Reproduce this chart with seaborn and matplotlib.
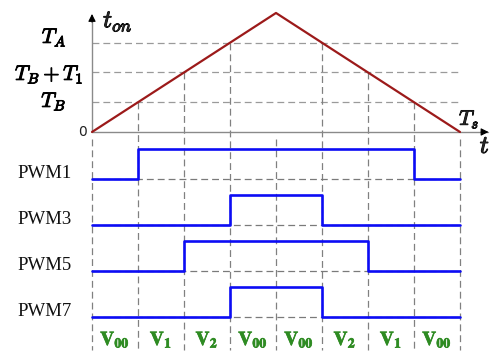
import numpy as np
import pandas as pd
import matplotlib
matplotlib.use("Agg")
import matplotlib.pyplot as plt
import matplotlib.patheffects as pe
import seaborn as sns

# ---------------- data ----------------
tri_t = [0, 4, 8]                 # time (segments of Ts/8)
tri_ton = [0.0, 1.0, 0.0]         # carrier t_on (normalised)
level_names = [r"$T_B$", r"$T_B+T_1$", r"$T_A$"]
level_values = [0.25, 0.50, 0.75]
seg_labels = [r"$\mathbf{V}_{\mathbf{00}}$", r"$\mathbf{V}_{\mathbf{1}}$", r"$\mathbf{V}_{\mathbf{2}}$",
              r"$\mathbf{V}_{\mathbf{00}}$", r"$\mathbf{V}_{\mathbf{00}}$", r"$\mathbf{V}_{\mathbf{2}}$",
              r"$\mathbf{V}_{\mathbf{1}}$", r"$\mathbf{V}_{\mathbf{00}}$"]
pwm_names = ["PWM1", "PWM3", "PWM5", "PWM7"]
pwm1 = [0, 1, 1, 1, 1, 1, 1, 0]
pwm3 = [0, 0, 0, 1, 1, 0, 0, 0]
pwm5 = [0, 0, 1, 1, 1, 1, 0, 0]
pwm7 = [0, 0, 0, 1, 1, 0, 0, 0]
pwm_states = [pwm1, pwm3, pwm5, pwm7]

# ---------------- style ----------------
sns.set_theme(style="white")
plt.rcParams["font.family"] = ["Liberation Serif", "DejaVu Serif"]

RED = "#9c1a1a"
BLUE = "#0c0cf5"
GREEN = "#2e8b22"
HGRAY = "#9a9a9a"
VGRAY = "#808080"
bold = [pe.withStroke(linewidth=0.7, foreground="black")]
gbold = [pe.withStroke(linewidth=0.5, foreground=GREEN)]

fig = plt.figure(figsize=(4.94, 3.53), dpi=100)
ax = fig.add_axes([0, 0, 1, 1])
ax.set_xlim(-2.0, 8.739)
ax.set_ylim(-1.857, 1.109)
ax.axis("off")

n_seg = len(seg_labels)
edges = np.arange(n_seg + 1)
row_base0, row_gap, amp = -0.395, 0.387, 0.255
y_bottom = -1.83
dash = (5.5, 3.2)

# horizontal reference lines for levels
for v in level_values:
    ax.plot([0, n_seg], [v, v], color=HGRAY, lw=0.9, dashes=dash, zorder=1)

# vertical dashed boundaries
for x in edges:
    if x in (0, 4, 8):
        top = -0.06
    else:
        top = np.interp(x, tri_t, tri_ton)
    ax.plot([x, x], [top, y_bottom], color=VGRAY, lw=0.9, dashes=dash, zorder=1)

# axes with arrows
ax.plot([0, 8.6], [0, 0], color="#8a8a8a", lw=1.0, zorder=2)
ax.plot([0, 0], [0, 0.95], color="#8a8a8a", lw=1.0, zorder=2)
ax.annotate("", xy=(8.68, 0), xytext=(8.4, 0),
            arrowprops=dict(arrowstyle="-|>", color="black", lw=0.8, mutation_scale=11), zorder=3)
ax.annotate("", xy=(0, 1.015), xytext=(0, 0.9),
            arrowprops=dict(arrowstyle="-|>", color="black", lw=0.8, mutation_scale=11), zorder=3)

# triangle carrier
tri_df = pd.DataFrame({"t": tri_t, "ton": tri_ton})
sns.lineplot(data=tri_df, x="t", y="ton", color=RED, lw=1.6, ax=ax, zorder=4, legend=False)

# PWM signals
for i, (name, states) in enumerate(zip(pwm_names, pwm_states)):
    base = row_base0 - i * row_gap
    ax.plot([0, n_seg], [base, base], color="#7a7a7a", lw=0.9, dashes=dash, zorder=1)
    ys = base + amp * np.array(states + [states[-1]], dtype=float)
    df = pd.DataFrame({"t": edges, "v": ys})
    sns.lineplot(data=df, x="t", y="v", color=BLUE, lw=1.9, drawstyle="steps-post",
                 ax=ax, zorder=4, legend=False, estimator=None, sort=False)
    ax.text(-1.63, base + 0.01, name, ha="left", va="baseline", fontsize=13.5, color="#111111")

ax.set_xlabel("")
ax.set_ylabel("")

# segment labels
for k, lab in enumerate(seg_labels):
    ax.text(k + 0.5, -1.79, lab, ha="center", va="baseline", fontsize=14,
            color=GREEN, math_fontfamily="stix", path_effects=gbold)

# level labels
level_x = [-0.83, -0.93, -0.82]
level_y = [0.21, 0.437, 0.748]
for name, lx, ly in zip(level_names, level_x, level_y):
    ax.text(lx, ly, name, ha="center", va="baseline", fontsize=15, color="black",
            math_fontfamily="cm", path_effects=bold)

ax.text(-0.11, 0, "0", ha="right", va="center", fontsize=10, family="DejaVu Sans", color="#222222")
ax.text(0.24, 0.88, r"$t_{on}$", ha="left", va="baseline", fontsize=18, math_fontfamily="cm",
        path_effects=bold)
ax.text(7.98, 0.06, r"$T_s$", ha="left", va="baseline", fontsize=15, math_fontfamily="cm",
        path_effects=bold)
ax.text(8.43, -0.176, r"$t$", ha="left", va="baseline", fontsize=18, math_fontfamily="cm",
        path_effects=bold)

fig.savefig("out.png", dpi=100)
